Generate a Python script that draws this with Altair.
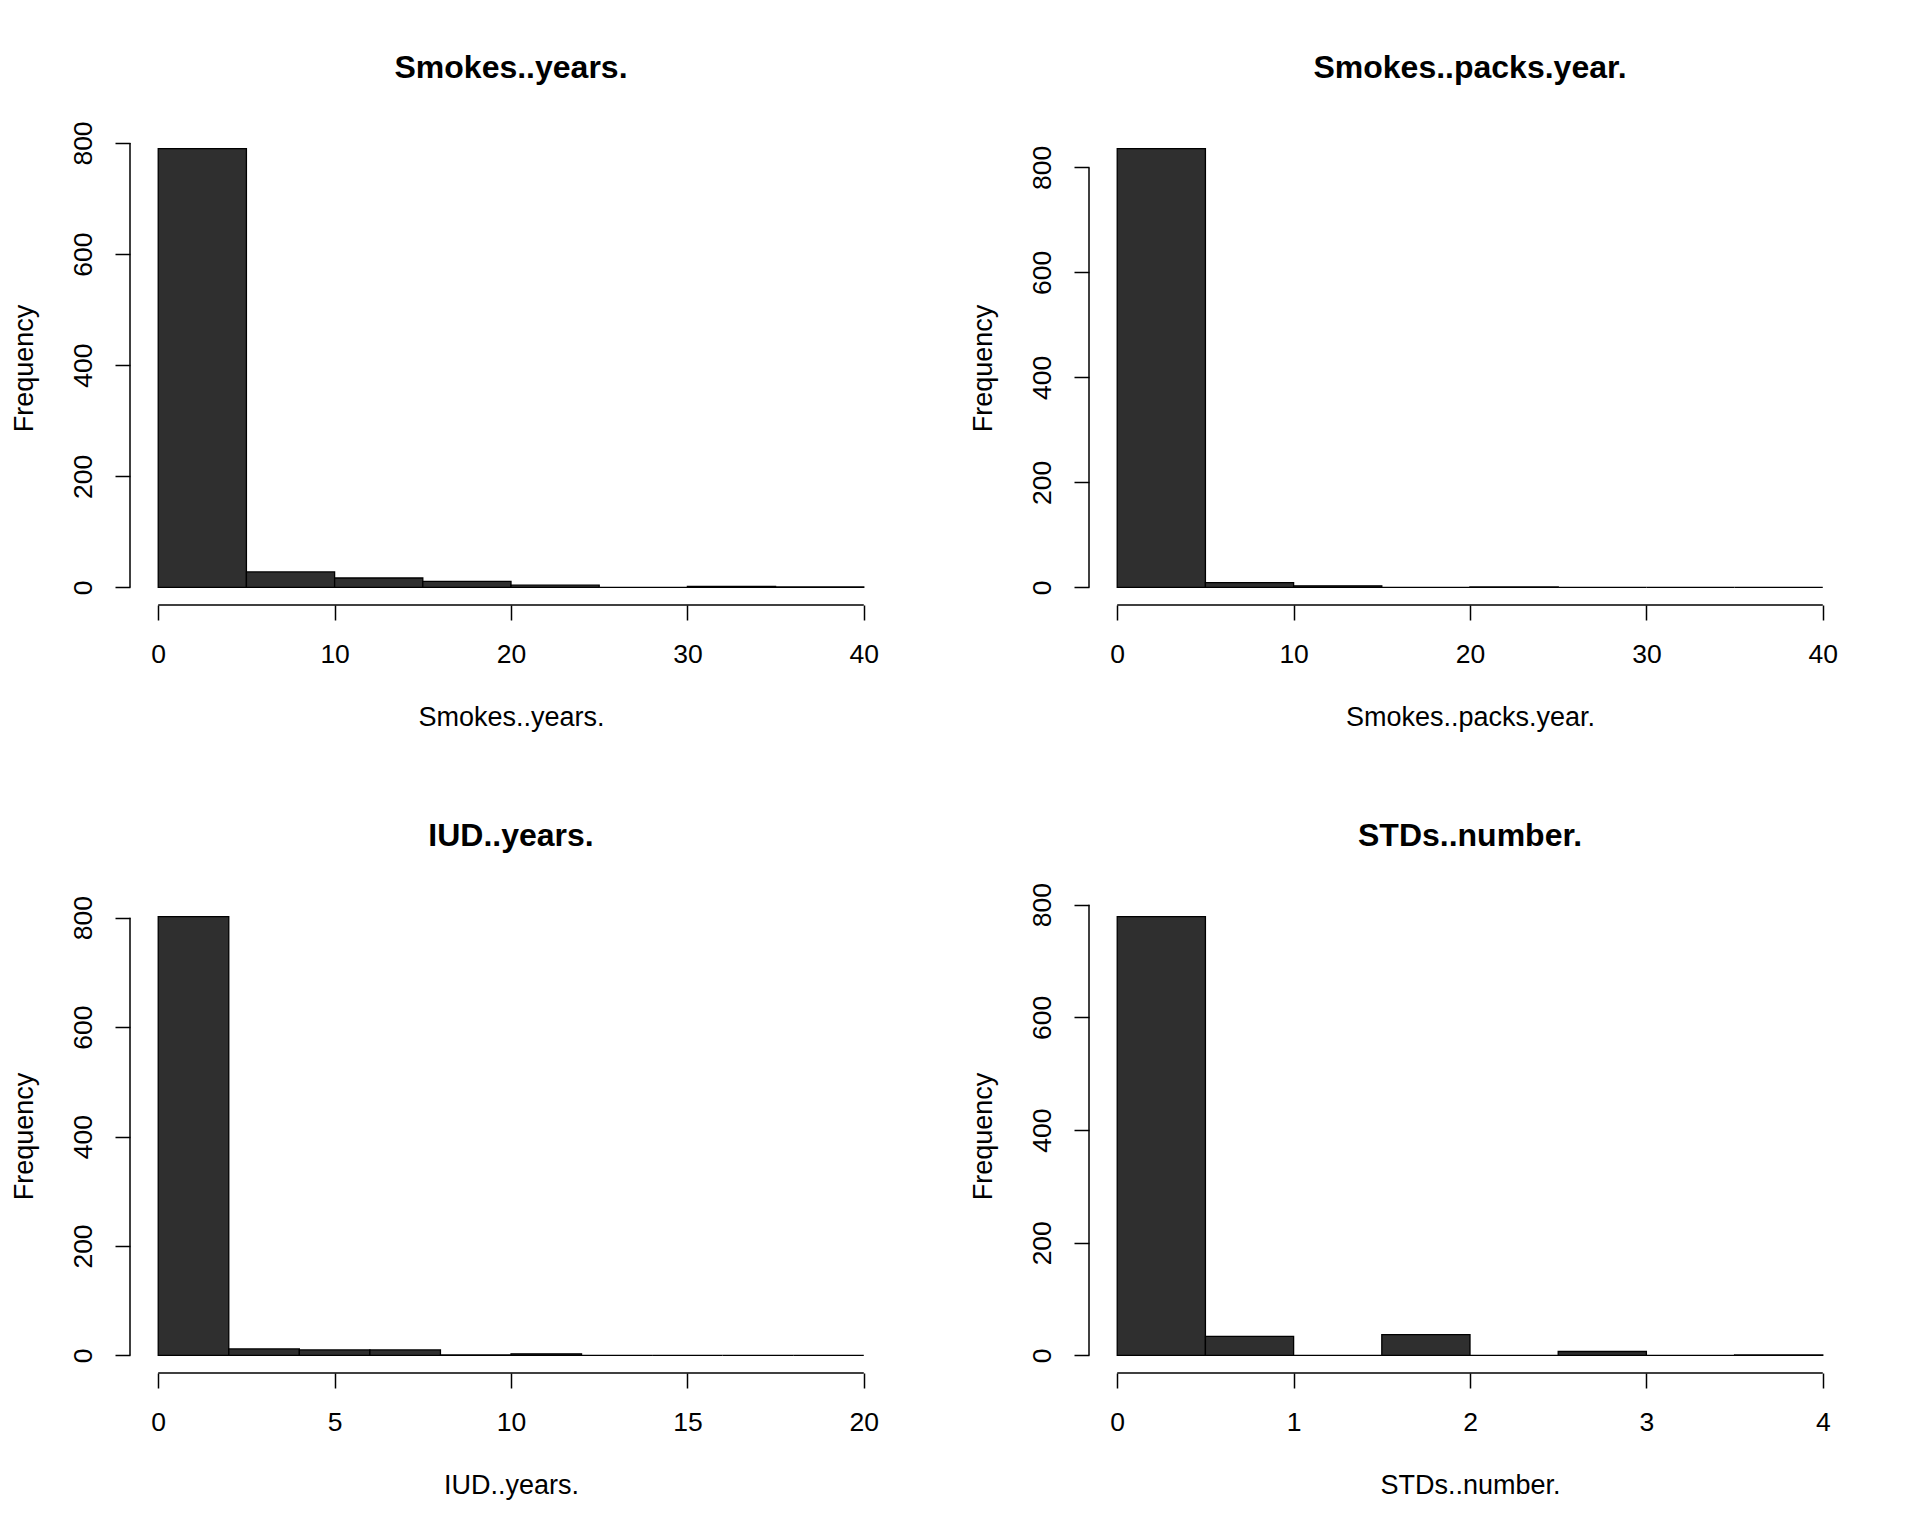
import altair as alt
import pandas as pd

# ---- data (R-style histograms) ----
smk_years_breaks = [0, 5, 10, 15, 20, 25, 30, 35, 40]
smk_years_counts = [790, 28, 17, 11, 4, 0, 2, 1]

smk_packs_breaks = [0, 5, 10, 15, 20, 25, 30, 35, 40]
smk_packs_counts = [836, 9, 3, 0, 1, 0, 0, 0]

iud_breaks = [0, 2, 4, 6, 8, 10, 12, 14, 16, 18, 20]
iud_counts = [802, 12, 10, 10, 1, 3, 0, 0, 0, 0]

std_breaks = [0, 0.5, 1, 1.5, 2, 2.5, 3, 3.5, 4]
std_counts = [779, 34, 0, 37, 0, 7, 0, 1]

names = ["Smokes..years.", "Smokes..packs.year.", "IUD..years.", "STDs..number."]
x_ticks = [[0, 10, 20, 30, 40], [0, 10, 20, 30, 40], [0, 5, 10, 15, 20], [0, 1, 2, 3, 4]]
y_ticks = [0, 200, 400, 600, 800]

FONT = "Liberation Sans"
W, H = 762, 474
LABEL_SIZE = 26.5
HALF_LABEL = 0.834 * LABEL_SIZE  # half the width of the rotated "800" label


def panel(name, breaks, counts, xt):
    df = pd.DataFrame({"lo": breaks[:-1], "hi": breaks[1:], "n": counts, "z": [0] * len(counts)})
    xmin, xmax = breaks[0], breaks[-1]
    ext = 0.04 * (xmax - xmin)
    ymax = max(counts)
    xdom = [xmin - ext, xmax + ext]
    ydom = [-0.04 * ymax, 1.04 * ymax]
    xs = alt.Scale(domain=xdom, nice=False, zero=False)
    ys = alt.Scale(domain=ydom, nice=False, zero=False)

    # how far the top y label sticks out above the plot (it pushes the title up)
    top_tick_px = (ydom[1] - y_ticks[-1]) / (ydom[1] - ydom[0]) * H
    overhang = max(0.0, HALF_LABEL - top_tick_px)

    xaxis = alt.Axis(values=xt, title=name, domain=False, grid=False, tickSize=15,
                     labelPadding=21, labelAngle=0, titleY=112, titleBaseline="middle",
                     format="d")
    yaxis = alt.Axis(values=y_ticks, title="Frequency", domain=False, grid=False, tickSize=15,
                     labelAngle=270, labelAlign="center", labelBaseline="alphabetic",
                     labelPadding=24, titleX=-106, titleBaseline="middle", titleAngle=270,
                     titleAlign="center")

    bars = alt.Chart(df).mark_rect(fill="#2f2f2f", stroke="black", strokeWidth=1.3).encode(
        x=alt.X("lo:Q", scale=xs, axis=xaxis),
        x2="hi:Q",
        y=alt.Y("n:Q", scale=ys, axis=yaxis),
        y2="z:Q",
    )

    xline_df = pd.DataFrame({"lo": [xmin], "hi": [xmax], "n": [ydom[0]]})
    xline = alt.Chart(xline_df).mark_rule(color="black", strokeWidth=1.5).encode(
        x=alt.X("lo:Q", scale=xs, axis=xaxis), x2="hi:Q", y=alt.Y("n:Q", scale=ys, axis=yaxis))

    yline_df = pd.DataFrame({"lo": [xdom[0]], "n": [y_ticks[0]], "z": [y_ticks[-1]]})
    yline = alt.Chart(yline_df).mark_rule(color="black", strokeWidth=1.5).encode(
        x=alt.X("lo:Q", scale=xs, axis=xaxis), y=alt.Y("n:Q", scale=ys, axis=yaxis), y2="z:Q")

    return alt.layer(bars, xline, yline).properties(
        width=W, height=H,
        title=alt.TitleParams(name, fontSize=32, fontWeight="bold", font=FONT, anchor="middle",
                              frame="group", baseline="middle", offset=31.2 - overhang,
                              color="black"),
    )


charts = [
    panel(names[0], smk_years_breaks, smk_years_counts, x_ticks[0]),
    panel(names[1], smk_packs_breaks, smk_packs_counts, x_ticks[1]),
    panel(names[2], iud_breaks, iud_counts, x_ticks[2]),
    panel(names[3], std_breaks, std_counts, x_ticks[3]),
]

chart = alt.concat(*charts, columns=2, spacing={"row": 294, "column": 197}, bounds="flush").properties(
    padding={"left": 2, "top": 43, "right": 10, "bottom": 10},
    background="white",
).configure_view(stroke=None).configure_axis(
    labelFont=FONT, labelFontSize=LABEL_SIZE, labelColor="black",
    titleFont=FONT, titleFontSize=27, titleFontWeight="normal", titleColor="black",
    tickColor="black", tickWidth=1.5,
)

chart.save("out.html", embed_options={"renderer": "svg", "actions": False})
